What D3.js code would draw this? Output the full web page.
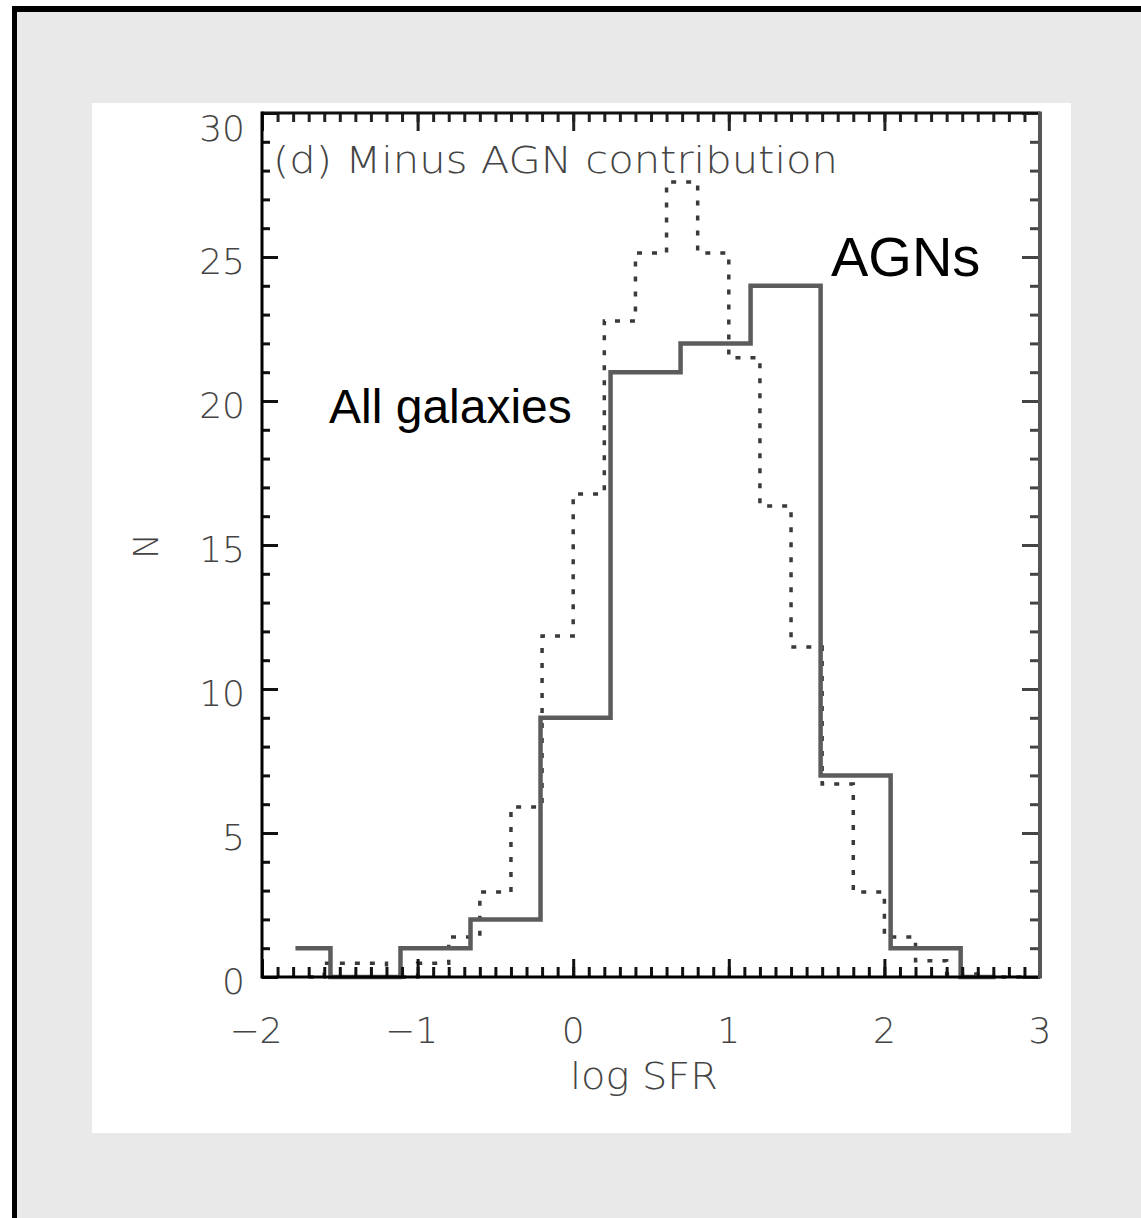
<!DOCTYPE html>
<html>
<head>
<meta charset="utf-8">
<script src="https://cdn.jsdelivr.net/npm/d3@7"></script>
<style>
  html, body { margin: 0; padding: 0; background: #fff; }
  svg { display: block; }
</style>
</head>
<body>
<svg id="canvas" width="1141" height="1218"></svg>
<script>
"use strict";

// tick values
const xTicks = [-2, -1, 0, 1, 2, 3];
const yTicks = [0, 5, 10, 15, 20, 25, 30];

// AGN histogram (solid), bin centres and counts
const agnCenters = [-1.785, -1.335, -0.885, -0.435, 0.015, 0.465, 0.915, 1.365, 1.815, 2.265, 2.715];
const agnCounts = [1, 0, 1, 2, 9, 21, 22, 24, 7, 1, 0];

// all galaxies (dotted, rescaled), bin centres and values
const allCenters = [-1.7, -1.5, -1.3, -1.1, -0.9, -0.7, -0.5, -0.3, -0.1, 0.1, 0.3, 0.5, 0.7,
  0.9, 1.1, 1.3, 1.5, 1.7, 1.9, 2.1, 2.3, 2.5, 2.7, 2.9];
const allValues = [0, 0.48, 0.48, 0, 0.48, 1.39, 2.95, 5.9, 11.84, 16.77, 22.78, 25.14, 27.6,
  25.14, 21.5, 16.35, 11.46, 6.7, 2.95, 1.39, 0.56, 0.1, 0, 0];

const svg = d3.select("#canvas");

// frame and panel
svg.append("rect").attr("x", 17).attr("y", 12).attr("width", 1124).attr("height", 1206).attr("fill", "#e9e9e9");
svg.append("rect").attr("x", 12).attr("y", 6).attr("width", 5).attr("height", 1212).attr("fill", "#000");
svg.append("rect").attr("x", 12).attr("y", 6).attr("width", 1129).attr("height", 6).attr("fill", "#000");
svg.append("rect").attr("x", 92).attr("y", 103).attr("width", 979).attr("height", 1030).attr("fill", "#fff");

const plotLeft = 262, plotRight = 1040, plotTop = 113, plotBottom = 977;
const x = d3.scaleLinear().domain([-2, 3]).range([plotLeft, plotRight]);
const y = d3.scaleLinear().domain([0, 30]).range([plotBottom, plotTop]);

// psym=10 style steps: half bins at both ends
const stepPoints = (centers, vals) => {
  const pts = [[centers[0], vals[0]]];
  for (let i = 0; i < centers.length - 1; i++) {
    const mid = (centers[i] + centers[i + 1]) / 2;
    pts.push([mid, vals[i]], [mid, vals[i + 1]]);
  }
  pts.push([centers[centers.length - 1], vals[vals.length - 1]]);
  return pts;
};

const line = d3.line().x((p) => x(p[0])).y((p) => y(p[1]));

svg.append("path")
  .attr("d", line(stepPoints(allCenters, allValues)))
  .attr("fill", "none")
  .attr("stroke", "#3a3a3a")
  .attr("stroke-width", 3.5)
  .attr("stroke-dasharray", "5,10");

svg.append("path")
  .attr("d", line(stepPoints(agnCenters, agnCounts)))
  .attr("fill", "none")
  .attr("stroke", "#5c5c5c")
  .attr("stroke-width", 4.5);

// axes (ticks pointing inward)
const xMinor = d3.range(-20, 31).map((d) => d / 10);
const yMinor = d3.range(0, 31);

const styleAxis = (g, color, w) => {
  g.select(".domain").remove();
  g.selectAll("line").attr("stroke", color).attr("stroke-width", w);
  g.selectAll("text").remove();
};

svg.append("g").attr("transform", `translate(0,${plotBottom})`)
  .call(d3.axisBottom(x).tickValues(xMinor).tickSize(-10)).call(styleAxis, "#111", 3);
svg.append("g").attr("transform", `translate(0,${plotBottom})`)
  .call(d3.axisBottom(x).tickValues(xTicks).tickSize(-18)).call(styleAxis, "#111", 3);
svg.append("g").attr("transform", `translate(0,${plotTop})`)
  .call(d3.axisTop(x).tickValues(xMinor).tickSize(-9)).call(styleAxis, "#222", 3);
svg.append("g").attr("transform", `translate(0,${plotTop})`)
  .call(d3.axisTop(x).tickValues(xTicks).tickSize(-18)).call(styleAxis, "#222", 3);
svg.append("g").attr("transform", `translate(${plotLeft},0)`)
  .call(d3.axisLeft(y).tickValues(yMinor).tickSize(-8)).call(styleAxis, "#111", 3);
svg.append("g").attr("transform", `translate(${plotLeft},0)`)
  .call(d3.axisLeft(y).tickValues(yTicks).tickSize(-16)).call(styleAxis, "#111", 3);
svg.append("g").attr("transform", `translate(${plotRight},0)`)
  .call(d3.axisRight(y).tickValues(yMinor).tickSize(-10)).call(styleAxis, "#444", 3);
svg.append("g").attr("transform", `translate(${plotRight},0)`)
  .call(d3.axisRight(y).tickValues(yTicks).tickSize(-18)).call(styleAxis, "#444", 3);

// box
svg.append("line").attr("x1", plotLeft).attr("x2", plotRight).attr("y1", plotBottom).attr("y2", plotBottom)
  .attr("stroke", "#000").attr("stroke-width", 3);
svg.append("line").attr("x1", plotLeft).attr("x2", plotRight).attr("y1", plotTop).attr("y2", plotTop)
  .attr("stroke", "#111").attr("stroke-width", 3);
svg.append("line").attr("x1", plotLeft).attr("x2", plotLeft).attr("y1", plotTop - 1.5).attr("y2", plotBottom + 1.5)
  .attr("stroke", "#000").attr("stroke-width", 3);
svg.append("line").attr("x1", plotRight).attr("x2", plotRight).attr("y1", plotTop - 1.5).attr("y2", plotBottom + 1.5)
  .attr("stroke", "#555").attr("stroke-width", 4);

// tick labels
const labelFont = "'DejaVu Sans', sans-serif";
svg.selectAll(".ylab").data(yTicks).enter().append("text")
  .attr("x", plotLeft - 17)
  .attr("y", (d) => Math.max(y(d) + 4, plotTop + 15))
  .attr("dominant-baseline", "central")
  .attr("text-anchor", "end")
  .attr("font-family", labelFont).attr("font-size", 36).attr("font-weight", 200)
  .attr("fill", "#444")
  .text((d) => d);

svg.selectAll(".xlab").data(xTicks).enter().append("text")
  .attr("x", (d) => x(d) - (d < 0 ? 6 : 0))
  .attr("y", 1043)
  .attr("text-anchor", "middle")
  .attr("font-family", labelFont).attr("font-size", 36).attr("font-weight", 200)
  .attr("fill", "#444")
  .text((d) => (d < 0 ? "\u2212" + Math.abs(d) : d));

svg.append("text")
  .attr("x", 644).attr("y", 1089)
  .attr("text-anchor", "middle")
  .attr("font-family", labelFont).attr("font-size", 38).attr("font-weight", 200)
  .attr("fill", "#444")
  .attr("textLength", 148).attr("lengthAdjust", "spacingAndGlyphs")
  .text("log SFR");

svg.append("text")
  .attr("transform", "translate(158,546) rotate(-90)")
  .attr("text-anchor", "middle")
  .attr("font-family", labelFont).attr("font-size", 34).attr("font-weight", 200)
  .attr("fill", "#444")
  .text("N");

svg.append("text")
  .attr("x", 273).attr("y", 173)
  .attr("font-family", labelFont).attr("font-size", 38).attr("font-weight", 200)
  .attr("fill", "#444")
  .attr("textLength", 565).attr("lengthAdjust", "spacingAndGlyphs")
  .text("(d) Minus AGN contribution");

// annotations
svg.append("text")
  .attr("x", 831).attr("y", 276)
  .attr("font-family", "'Liberation Sans', Arial, sans-serif").attr("font-size", 56)
  .attr("fill", "#000")
  .text("AGNs");

svg.append("text")
  .attr("x", 329).attr("y", 423)
  .attr("font-family", "'Liberation Sans', Arial, sans-serif").attr("font-size", 48)
  .attr("fill", "#000")
  .text("All galaxies");
</script>
</body>
</html>
